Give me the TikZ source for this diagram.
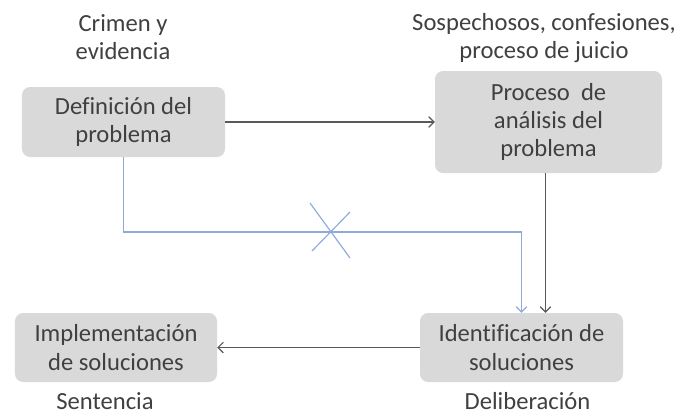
\documentclass[tikz,border=0pt]{standalone}
\usepackage{fontspec}
\setmainfont{Carlito}[Ligatures=CommonOff]
\usetikzlibrary{arrows.meta}
\definecolor{boxgray}{HTML}{D9D9D9}
\definecolor{linegray}{HTML}{595959}
\definecolor{lineblue}{HTML}{8EAADB}
\definecolor{textgray}{HTML}{404040}
\begin{document}
\begin{tikzpicture}[x=0.03cm, y=-0.03cm,
    every node/.style={text=textgray, font=\fontsize{21}{24}\selectfont, align=center},
    stage/.style={fill=boxgray, rounded corners=7pt, inner sep=0pt},
    flow/.style={draw=linegray, line width=1pt, -{Straight Barb[length=4.5pt,width=9pt]}},
    skip/.style={draw=lineblue, line width=1pt}]
    \useasboundingbox (0,0) rectangle (680,415);
    % problem definition
    \node[stage, minimum width=6.09cm, minimum height=2.1cm] (def) at (123.5,122) {Definición del\\problema};
    \node (crimen) at (123,37) {Crimen y\\evidencia};
    % analysis
    \node[stage, minimum width=6.81cm, minimum height=3.06cm] (anal) at (548.5,122) {Proceso\ \ de\\análisis del\\problema};
    \node (sosp) at (544,38) {Sospechosos, confesiones,\\proceso de juicio};
    % solutions
    \node[stage, minimum width=6.09cm, minimum height=2.07cm] (ident) at (521.5,347.5) {Identificación de\\soluciones};
    \node (delib) at (527.5,401) {Deliberación};
    \node[stage, minimum width=6.06cm, minimum height=2.07cm] (impl) at (116,347.5) {Implementación\\de soluciones};
    \node (sent) at (105,401) {Sentencia};

    % main flow
    \draw[flow] (def) -- (anal);
    \draw[flow] (anal.south) ++(-3,0) -- (ident.north -| 545.5,0);
    \draw[flow] (ident) -- (impl);
    % skipped step, crossed out
    \coordinate (cross) at (330,232);
    \draw[skip, -{Straight Barb[length=4.5pt,width=9pt]}] (def.south) |- (cross) -| (ident.north);
    \draw[skip] (cross) ++(-20,-29) -- ++(40,55);
    \draw[skip] (cross) ++(20,-20) -- ++(-38,39);
\end{tikzpicture}
\end{document}
